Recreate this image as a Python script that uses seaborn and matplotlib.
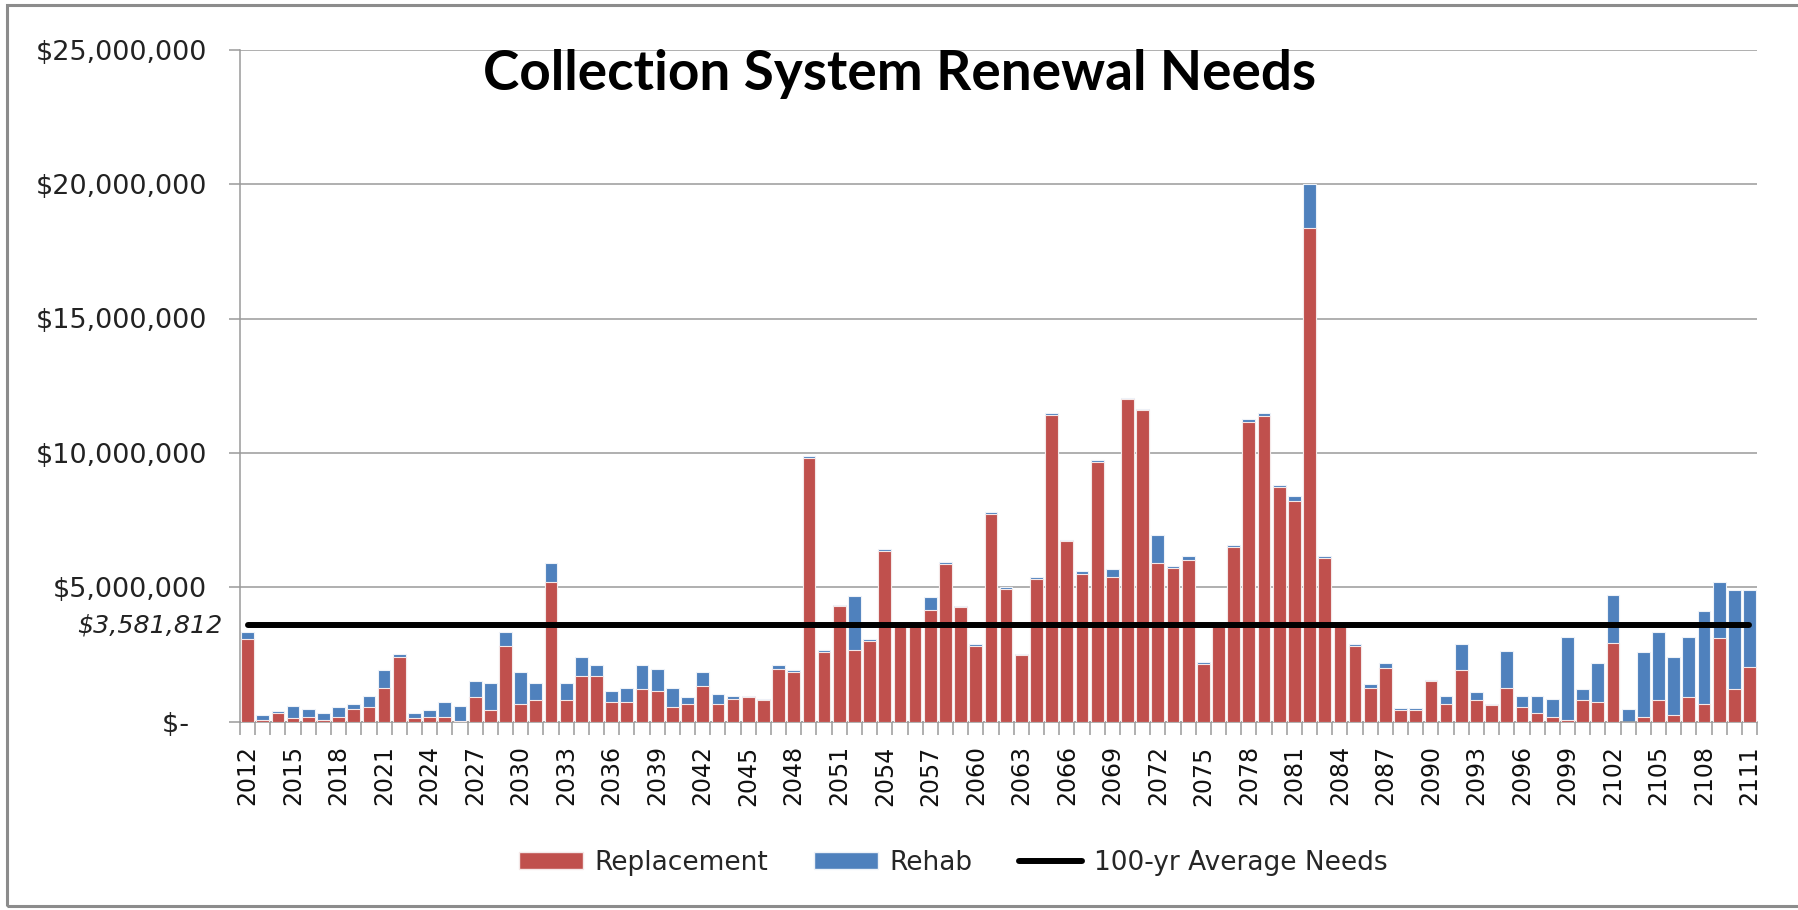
import numpy as np
import pandas as pd
import matplotlib
matplotlib.use("Agg")
import matplotlib.pyplot as plt
import matplotlib.transforms as mtransforms
from matplotlib.patches import Patch, Rectangle
from matplotlib.lines import Line2D
import seaborn as sns

# ---------------- data ($ millions) ----------------
years = list(range(2012, 2112))
replacement = [
    3.06, 0.07, 0.31, 0.12, 0.19, 0.07, 0.19, 0.48, 0.53, 1.26,
    2.39, 0.12, 0.19, 0.19, 0.03, 0.91, 0.43, 2.83, 0.67, 0.79,
    5.21, 0.79, 1.69, 1.69, 0.73, 0.73, 1.20, 1.14, 0.55, 0.67,
    1.33, 0.67, 0.84, 0.91, 0.79, 1.97, 1.86, 9.80, 2.59, 4.30,
    2.65, 3.01, 6.35, 3.60, 3.60, 4.15, 5.88, 4.25, 2.83, 7.74,
    4.92, 2.47, 5.31, 11.40, 6.74, 5.50, 9.66, 5.37, 12.01, 11.59,
    5.90, 5.72, 6.03, 2.15, 3.58, 6.50, 11.15, 11.36, 8.75, 8.21,
    18.37, 6.09, 3.60, 2.83, 1.26, 1.98, 0.43, 0.43, 1.51, 0.67,
    1.92, 0.79, 0.61, 1.26, 0.55, 0.31, 0.19, 0.06, 0.79, 0.73,
    2.94, 0.00, 0.19, 0.79, 0.25, 0.91, 0.67, 3.13, 1.20, 2.05,
]
rehab = [
    0.29, 0.17, 0.10, 0.48, 0.29, 0.24, 0.36, 0.19, 0.44, 0.66,
    0.13, 0.19, 0.23, 0.53, 0.57, 0.59, 1.01, 0.52, 1.19, 0.65,
    0.68, 0.65, 0.70, 0.41, 0.41, 0.53, 0.90, 0.83, 0.71, 0.24,
    0.53, 0.36, 0.13, 0.06, 0.05, 0.13, 0.06, 0.10, 0.06, 0.03,
    2.03, 0.05, 0.06, 0.00, 0.00, 0.48, 0.05, 0.07, 0.05, 0.05,
    0.10, 0.05, 0.06, 0.07, 0.02, 0.10, 0.06, 0.30, 0.05, 0.05,
    1.06, 0.06, 0.12, 0.06, 0.00, 0.06, 0.10, 0.12, 0.06, 0.19,
    1.63, 0.06, 0.00, 0.05, 0.13, 0.19, 0.07, 0.07, 0.06, 0.30,
    0.96, 0.30, 0.06, 1.38, 0.42, 0.66, 0.65, 3.11, 0.41, 1.44,
    1.78, 0.48, 2.39, 2.56, 2.16, 2.26, 3.46, 2.08, 3.71, 2.86,
]
avg_need = 3581812
ytick_values = [0, 5e6, 10e6, 15e6, 20e6, 25e6]
ytick_labels = ["$-  ", "$5,000,000", "$10,000,000", "$15,000,000", "$20,000,000", "$25,000,000"]
xtick_labels = [str(y) for y in years[::3]]
title = "Collection System Renewal Needs"
avg_label = "$3,581,812"
legend_labels = ["Replacement", "Rehab", "100-yr Average Needs"]

RED = "#C0504D"
BLUE = "#4F81BD"
GRID = "#9a9a9a"

df = pd.DataFrame({
    "year": [str(y) for y in years],
    "replacement": np.array(replacement) * 1e6,
    "rehab": np.array(rehab) * 1e6,
})
df["total"] = df["replacement"] + df["rehab"]

sns.set_theme(style="white")
plt.rcParams["font.family"] = ["DejaVu Sans"]

fig = plt.figure(figsize=(17.99, 9.10), dpi=100)
ax = fig.add_axes([0.1334, 0.2069, 0.8433, 0.7385])

sns.barplot(data=df, x="year", y="total", color=BLUE, saturation=1, width=0.84,
            edgecolor="#eef2f8", linewidth=0.8, ax=ax, zorder=2)
sns.barplot(data=df, x="year", y="replacement", color=RED, saturation=1, width=0.84,
            edgecolor="#f4e8e8", linewidth=0.8, ax=ax, zorder=3)

n = len(years)
ax.plot([0, n - 1], [avg_need, avg_need], color="black", lw=4.3,
        solid_capstyle="round", zorder=4)

ax.set_xlim(-0.5, n - 0.5)
ax.set_ylim(0, 25e6)
ax.set_xlabel("")
ax.set_ylabel("")

# y axis
ax.set_yticks(ytick_values)
ax.set_yticklabels(ytick_labels, fontsize=19.5, color="#222222")
ax.yaxis.grid(True, color=GRID, lw=1.1, zorder=0)
ax.set_axisbelow(True)
ax.tick_params(axis="y", which="major", length=8, color=GRID, width=1.1, pad=16, left=True)

# x axis
ax.set_xticks(list(range(0, n, 3)))
ax.set_xticklabels(xtick_labels, rotation=90, fontsize=17, color="#111111")
ax.set_xticks(np.arange(-0.5, n, 1.0), minor=True)
ax.tick_params(axis="x", which="major", length=0, pad=17)
ax.tick_params(axis="x", which="minor", length=9, color=GRID, width=1.1, bottom=True)

for s in ["top", "right"]:
    ax.spines[s].set_visible(False)
for s in ["left", "bottom"]:
    ax.spines[s].set_color(GRID)
    ax.spines[s].set_linewidth(1.1)

# average label
trans = mtransforms.blended_transform_factory(fig.transFigure, ax.transData)
ax.text(222 / 1799, avg_need, avg_label, transform=trans, ha="right", va="center",
        fontsize=18.3, fontstyle="italic", color="#222222")

# title
fig.text(0.5003, 1 - 90 / 910, title, ha="center", va="baseline", fontsize=39.5,
         fontweight="bold", family=["Lato", "DejaVu Sans"], color="black")

# legend
handles = [Patch(facecolor=RED, edgecolor="#f4e8e8"),
           Patch(facecolor=BLUE, edgecolor="#eef2f8"),
           Line2D([0], [0], color="black", lw=4.3)]
fig.legend(handles, legend_labels, loc="center", bbox_to_anchor=(0.530, 0.052),
           ncol=3, frameon=False, fontsize=19, handlelength=2.4, handleheight=0.65,
           handletextpad=0.45, columnspacing=1.75)

# outer chart frame
fig.add_artist(Rectangle((0.004, 0.004), 1.2, 0.99, transform=fig.transFigure,
                         fill=False, edgecolor="#8c8c8c", lw=2.2))

fig.savefig("out.png", dpi=100)
